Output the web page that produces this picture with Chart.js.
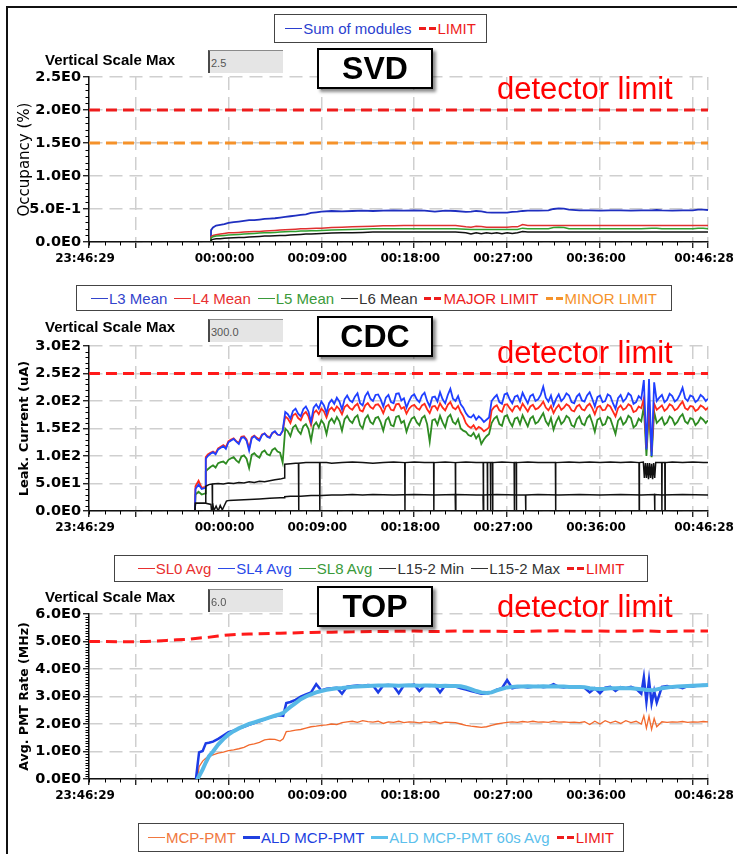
<!DOCTYPE html>
<html>
<head>
<meta charset="utf-8">
<script src="https://cdn.jsdelivr.net/npm/chart.js@4.4.1/dist/chart.umd.min.js"></script>
<style>
  html, body { margin:0; padding:0; background:#fff; }
  body { width:737px; height:854px; overflow:hidden; position:relative; font-family:"Liberation Sans", Arial, sans-serif; }
  .frame { position:absolute; left:6px; top:6px; width:800px; height:900px; border-left:2px solid #111; border-top:2px solid #111; }
  canvas.cv { position:absolute; left:0; z-index:1; }
  .legend { position:absolute; box-sizing:border-box; border:1px solid #444; background:#fff; display:flex; align-items:center; justify-content:center; gap:7px; font-size:15px; white-space:nowrap; z-index:2; }
  .legend span.it { display:inline-flex; align-items:center; }
  .legend i.ln { display:inline-block; width:17px; height:0; border-top:1.5px solid currentColor; margin-right:1px; }
  .legend i.thick { border-top-width:3px; }
  .legend i.ds { display:inline-block; width:17px; height:3px; margin-right:2px; background:linear-gradient(90deg,currentColor 0 7px,transparent 7px 10px,currentColor 10px 17px); }
  .vsm { position:absolute; left:45px; font-weight:bold; font-size:15px; line-height:17px; z-index:2; }
  .inp { position:absolute; left:208px; width:75px; height:23px; box-sizing:border-box; background:#e5e5e5; border-left:2px solid #4a4a4a; border-top:1px solid #8a8a8a; font-size:11px; color:#555; padding:6px 0 0 1px; z-index:2; }
  .det { position:absolute; left:497px; font-size:31px; line-height:31px; color:#ff0000; z-index:2; }
  .lab { position:absolute; left:317px; width:116px; height:41px; box-sizing:border-box; border:2px solid #000; background:#fff; box-shadow:3px 3px 3px rgba(0,0,0,0.45); font-weight:bold; font-size:32px; display:flex; align-items:center; justify-content:center; z-index:3; }
</style>
</head>
<body>
<div class="frame"></div>

<div class="legend" style="left:274px;top:14px;width:213px;height:29px;">
  <span class="it" style="color:#2b3fcf"><i class="ln"></i>Sum of modules</span>
  <span class="it" style="color:#ee1c1c"><i class="ds"></i>LIMIT</span>
</div>

<div class="vsm" style="top:51px">Vertical Scale Max</div>
<div class="inp" style="top:50px">2.5</div>
<div class="lab" style="top:48px">SVD</div>
<div class="det" style="top:73px">detector limit</div>
<canvas id="svd" class="cv" width="737" height="215" style="top:57px"></canvas>

<div class="legend" style="left:76px;top:285px;width:596px;height:26px;">
  <span class="it" style="color:#3344cc"><i class="ln"></i>L3 Mean</span>
  <span class="it" style="color:#e83030"><i class="ln"></i>L4 Mean</span>
  <span class="it" style="color:#3a9a3a"><i class="ln"></i>L5 Mean</span>
  <span class="it" style="color:#333"><i class="ln"></i>L6 Mean</span>
  <span class="it" style="color:#ee1c1c"><i class="ds"></i>MAJOR LIMIT</span>
  <span class="it" style="color:#f5922a"><i class="ds"></i>MINOR LIMIT</span>
</div>

<div class="vsm" style="top:318px">Vertical Scale Max</div>
<div class="inp" style="top:319px">300.0</div>
<div class="lab" style="top:316px">CDC</div>
<div class="det" style="top:337px">detector limit</div>
<canvas id="cdc" class="cv" width="737" height="215" style="top:326px"></canvas>

<div class="legend" style="left:114px;top:555px;width:534px;height:27px;">
  <span class="it" style="color:#e83030"><i class="ln"></i>SL0 Avg</span>
  <span class="it" style="color:#2b4ae8"><i class="ln"></i>SL4 Avg</span>
  <span class="it" style="color:#3a9a3a"><i class="ln"></i>SL8 Avg</span>
  <span class="it" style="color:#333"><i class="ln"></i>L15-2 Min</span>
  <span class="it" style="color:#333"><i class="ln"></i>L15-2 Max</span>
  <span class="it" style="color:#ee1c1c"><i class="ds"></i>LIMIT</span>
</div>

<div class="vsm" style="top:588px">Vertical Scale Max</div>
<div class="inp" style="top:589px">6.0</div>
<div class="lab" style="top:586px">TOP</div>
<div class="det" style="top:591px">detector limit</div>
<canvas id="top" class="cv" width="737" height="215" style="top:594px"></canvas>

<div class="legend" style="left:138px;top:823px;width:486px;height:29px;">
  <span class="it" style="color:#f07840"><i class="ln"></i>MCP-PMT</span>
  <span class="it" style="color:#2040e0"><i class="ln thick"></i>ALD MCP-PMT</span>
  <span class="it" style="color:#5cc0ec"><i class="ln thick"></i>ALD MCP-PMT 60s Avg</span>
  <span class="it" style="color:#ee1c1c"><i class="ds"></i>LIMIT</span>
</div>

<script>
// ---------- shared time axis (minutes relative to 00:00:00) ----------
const X_MIN = -13.5167, X_MAX = 46.4667;
const xTickValues = [-13.5167, -9, 0, 9, 18, 27, 36, 45, 46.4667];
const xTickLabels = ["23:46:29", "", "00:00:00", "00:09:00", "00:18:00", "00:27:00", "00:36:00", "", "00:46:28"];
const limitTime = [-13.52, 46.47];

// ---------- SVD ----------
const svdYTicks = [0, 0.5, 1.0, 1.5, 2.0, 2.5];
const svdYLabels = ["0.0E0", "5.0E-1", "1.0E0", "1.5E0", "2.0E0", "2.5E0"];
const svdTime = [-1.7, -1.69, -1.5, -1.2, -0.8, -0.4,
  0, 0.5, 1, 1.5, 2, 2.5, 3, 3.5, 4, 4.5, 5, 5.5, 6, 6.5, 7, 7.5, 8, 8.5, 9,
  10, 11, 12, 13, 14, 15, 16, 17, 18, 19, 20, 21, 22, 23,
  23.5, 24, 24.5, 25, 25.5, 26, 26.5, 27, 27.5, 28, 28.5, 29,
  30, 31,
  31.5, 32, 32.5, 33,
  34, 35, 36, 37, 38, 39, 40, 41,
  41.5,
  42, 43, 44, 45,
  45.5, 46, 46.47];
const svdL3 = [0, 0.18, 0.22, 0.25, 0.26, 0.27,
  0.29, 0.30, 0.31, 0.32, 0.33, 0.33, 0.34, 0.35, 0.355, 0.36, 0.37, 0.38, 0.39, 0.40, 0.41, 0.42, 0.44, 0.45, 0.46,
  0.47, 0.465, 0.47, 0.475, 0.47, 0.475, 0.48, 0.475, 0.48, 0.475, 0.46, 0.475, 0.47, 0.455,
  0.46, 0.47, 0.465, 0.45, 0.445, 0.445, 0.445, 0.445, 0.455, 0.46, 0.47, 0.475,
  0.475, 0.48,
  0.5, 0.51, 0.505, 0.49,
  0.48, 0.48, 0.475, 0.48, 0.48, 0.475, 0.48, 0.48,
  0.485,
  0.48, 0.475, 0.48, 0.48,
  0.49, 0.49, 0.485];
const svdL4 = [0, 0.08, 0.10, 0.11, 0.12, 0.13,
  0.14, 0.14, 0.145, 0.15, 0.155, 0.16, 0.16, 0.165, 0.17, 0.175, 0.18, 0.185, 0.19, 0.195, 0.2, 0.2, 0.205, 0.21, 0.21,
  0.22, 0.225, 0.23, 0.235, 0.24, 0.245, 0.245, 0.25, 0.25, 0.25, 0.25, 0.25, 0.25, 0.23,
  0.225, 0.24, 0.235, 0.225, 0.225, 0.225, 0.225, 0.225, 0.23, 0.23, 0.265, 0.25,
  0.25, 0.25,
  0.25, 0.25, 0.25, 0.25,
  0.25, 0.25, 0.25, 0.25, 0.25, 0.25, 0.25, 0.25,
  0.25,
  0.25, 0.25, 0.25, 0.25,
  0.25, 0.25, 0.25];
const svdL5 = [0, 0.06, 0.08, 0.09, 0.095, 0.10,
  0.105, 0.11, 0.115, 0.12, 0.125, 0.13, 0.135, 0.14, 0.14, 0.145, 0.15, 0.155, 0.16, 0.16, 0.165, 0.165, 0.17, 0.17, 0.175,
  0.18, 0.185, 0.19, 0.195, 0.2, 0.2, 0.2, 0.2, 0.2, 0.2, 0.2, 0.2, 0.2, 0.195,
  0.19, 0.19, 0.19, 0.19, 0.19, 0.19, 0.19, 0.19, 0.19, 0.19, 0.21, 0.2,
  0.2, 0.2,
  0.22, 0.225, 0.22, 0.2,
  0.2, 0.2, 0.2, 0.2, 0.2, 0.2, 0.2, 0.21,
  0.21,
  0.2, 0.2, 0.2, 0.2,
  0.21, 0.21, 0.2];
const svdL6 = [0, 0.03, 0.04, 0.05, 0.05, 0.055,
  0.06, 0.065, 0.07, 0.07, 0.075, 0.08, 0.085, 0.09, 0.09, 0.095, 0.1, 0.1, 0.105, 0.11, 0.115, 0.12, 0.12, 0.125, 0.13,
  0.135, 0.14, 0.14, 0.145, 0.15, 0.15, 0.15, 0.15, 0.15, 0.15, 0.15, 0.15, 0.15, 0.14,
  0.12, 0.14, 0.125, 0.14, 0.13, 0.14, 0.125, 0.14, 0.13, 0.14, 0.16, 0.15,
  0.15, 0.15,
  0.15, 0.15, 0.15, 0.15,
  0.15, 0.15, 0.15, 0.15, 0.15, 0.15, 0.15, 0.15,
  0.15,
  0.15, 0.15, 0.15, 0.15,
  0.15, 0.15, 0.15];
const svdMajorLimit = [2.0, 2.0];
const svdMinorLimit = [1.5, 1.5];

// ---------- CDC ----------
const cdcYTicks = [0, 50, 100, 150, 200, 250, 300];
const cdcYLabels = ["0.0E0", "5.0E1", "1.0E2", "1.5E2", "2.0E2", "2.5E2", "3.0E2"];
const cdcTime = [-3.25, -3.2, -2.9, -2.6, -2.25, -2.2,
  -2, -1.75, -1.5, -1.25, -1, -0.75, -0.5, -0.25, 0, 0.25, 0.5, 0.75, 1, 1.25, 1.5, 1.75, 2, 2.25, 2.5, 2.75,
  3, 3.25, 3.5, 3.75, 4, 4.25, 4.5, 4.75, 5, 5.25, 5.5, 5.75, 6, 6.25, 6.5, 6.75, 7, 7.25, 7.5, 7.75,
  8, 8.25, 8.5, 8.75, 9, 9.25, 9.5, 9.75, 10, 10.25, 10.5, 10.75, 11, 11.25, 11.5, 11.75, 12, 12.25, 12.5, 12.75,
  13, 13.25, 13.5, 13.75, 14, 14.25, 14.5, 14.75, 15, 15.25, 15.5, 15.75, 16, 16.25, 16.5, 16.75, 17, 17.25, 17.5, 17.75,
  18, 18.25, 18.5, 18.75, 19, 19.25, 19.5, 19.75, 20, 20.25, 20.5, 20.75, 21, 21.25, 21.5, 21.75, 22, 22.25, 22.5, 22.75,
  23, 23.25, 23.5, 23.75, 24, 24.25, 24.5, 24.75, 25, 25.25, 25.5, 25.75, 26, 26.25, 26.5, 26.75, 27, 27.25, 27.5, 27.75,
  28, 28.25, 28.5, 28.75, 29, 29.25, 29.5, 29.75, 30, 30.25, 30.5, 30.75, 31, 31.25, 31.5, 31.75, 32, 32.25, 32.5, 32.75,
  33, 33.25, 33.5, 33.75, 34, 34.25, 34.5, 34.75, 35, 35.25, 35.5, 35.75, 36, 36.25, 36.5, 36.75, 37, 37.25, 37.5, 37.75,
  38, 38.25, 38.5, 38.75, 39, 39.25, 39.5, 39.75, 40, 40.25, 40.5, 40.75, 41, 41.25, 41.5, 41.75, 42, 42.25, 42.5, 42.75,
  43, 43.25, 43.5, 43.75, 44, 44.25, 44.5, 44.75, 45, 45.25, 45.5, 45.75, 46, 46.25, 46.47];
const cdcSL4 = [0, 40, 48, 40, 42, 95,
  100, 104, 107, 103, 112, 115, 118, 113, 125, 128, 131, 126, 122, 133, 134, 128, 110, 132, 136, 131,
  128, 138, 141, 135, 133, 142, 145, 139, 138, 146, 180, 176, 168, 182, 186, 177, 172, 185, 190, 181,
  162, 188, 194, 186, 199, 192, 178, 196, 202, 195, 206, 199, 185, 203, 210, 201, 198, 208, 214, 196,
  192, 209, 216, 204, 200, 211, 212, 203, 190, 206, 211, 198, 196, 213, 214, 201, 205, 188, 200, 209,
  212, 203, 198, 210, 215, 200, 190, 207, 208, 199, 216, 203, 196, 211, 222, 204, 200, 209, 194, 188,
  178, 172, 170, 175, 166, 172, 168, 162, 166, 170, 200, 206, 211, 198, 195, 212, 214, 203, 196, 208,
  210, 199, 215, 205, 196, 209, 212, 200, 203, 211, 226, 206, 199, 210, 192, 204, 212, 200, 205, 214,
  210, 198, 196, 208, 213, 201, 199, 210, 216, 204, 190, 207, 210, 198, 200, 212, 209, 196, 186, 205,
  211, 199, 204, 214, 210, 195, 198, 209, 204, 238, 112, 240, 100, 234, 200, 206, 211, 198, 202, 213,
  209, 199, 203, 212, 224, 205, 200, 210, 208, 198, 202, 211, 207, 200, 204];
const cdcSL0 = [0, 45, 55, 42, 44, 98,
  103, 106, 108, 105, 114, 117, 120, 116, 127, 130, 132, 127, 124, 135, 136, 130, 114, 134, 137, 133,
  130, 139, 141, 136, 134, 142, 144, 139, 138, 145, 172, 168, 160, 174, 177, 169, 165, 176, 180, 172,
  156, 178, 183, 176, 186, 181, 170, 184, 188, 182, 190, 185, 176, 189, 193, 187, 184, 191, 195, 183,
  181, 192, 196, 189, 186, 193, 194, 188, 178, 190, 193, 184, 183, 194, 195, 186, 189, 177, 186, 191,
  193, 187, 184, 192, 195, 185, 178, 190, 191, 184, 196, 188, 183, 193, 198, 188, 185, 191, 180, 172,
  160, 154, 151, 156, 148, 153, 150, 145, 148, 152, 183, 189, 192, 183, 180, 193, 194, 187, 181, 190,
  191, 184, 195, 188, 181, 190, 193, 185, 187, 192, 199, 188, 183, 191, 178, 187, 193, 184, 188, 194,
  191, 183, 181, 190, 193, 185, 183, 191, 195, 187, 176, 189, 191, 183, 184, 193, 190, 181, 172, 187,
  192, 184, 187, 194, 191, 180, 182, 190, 187, 205, 115, 200, 108, 195, 184, 188, 192, 182, 186, 194,
  191, 183, 186, 193, 199, 187, 184, 191, 190, 182, 185, 192, 189, 184, 188];
const cdcSL8 = [0, 30, 35, 30, 32, 72,
  76, 80, 83, 79, 87, 89, 90, 86, 93, 96, 98, 92, 88, 99, 101, 95, 78, 102, 105, 100,
  97, 107, 110, 103, 101, 111, 114, 108, 106, 88, 150, 145, 136, 152, 156, 146, 140, 154, 158, 149,
  128, 155, 161, 152, 165, 158, 140, 162, 168, 160, 171, 163, 146, 167, 173, 164, 160, 170, 174, 156,
  150, 168, 174, 162, 158, 169, 171, 161, 146, 165, 170, 156, 154, 171, 173, 160, 164, 144, 158, 168,
  171, 161, 156, 169, 173, 158, 126, 165, 167, 157, 173, 161, 152, 170, 175, 162, 158, 167, 150, 146,
  144, 138, 136, 142, 132, 139, 122, 130, 136, 140, 160, 168, 172, 158, 155, 172, 174, 162, 154, 168,
  170, 158, 174, 164, 154, 168, 172, 159, 162, 170, 178, 163, 156, 169, 148, 162, 171, 158, 163, 173,
  169, 156, 153, 167, 172, 159, 156, 169, 174, 161, 144, 166, 169, 156, 158, 171, 168, 154, 140, 164,
  170, 157, 162, 173, 169, 152, 156, 168, 163, 190, 100, 185, 98, 180, 160, 165, 170, 157, 161, 172,
  168, 157, 162, 171, 176, 163, 159, 169, 167, 156, 161, 170, 166, 160, 165];
const cdcMaxTime = [-13.52, -3.25, -3.2, -2.25, -2.2, -1.9, -1.58, -1.56, -1.54, -1,
  -0.5, 0, 0.5, 1, 1.5, 2, 2.5, 3, 3.5, 4,
  4.5, 5, 5.4, 5.45, 6, 6.5, 6.78, 6.8, 6.82, 7.5,
  8, 8.83, 8.85, 8.87, 9.5, 10, 11, 12, 13, 14,
  15, 16, 17.08, 17.1, 17.12, 18, 19, 19.88, 19.9, 19.92,
  21, 21.98, 22.0, 22.02, 23, 24, 24.68, 24.7, 24.72, 25.08,
  25.1, 25.12, 25.38, 25.4, 25.42, 25.58, 25.6, 25.62, 26.5, 27.68,
  27.7, 27.72, 27.88, 27.9, 27.92, 29, 30, 31.68, 31.7, 31.72,
  33, 34, 35, 36, 37, 38, 39, 39.78, 39.8, 39.82,
  40.2, 40.3, 40.4, 40.5, 40.6, 40.7, 40.8, 40.9, 41.0, 41.1,
  41.2, 41.3, 41.4, 41.98, 42.0, 42.02, 42.28, 42.3, 42.32, 43,
  44, 45, 46, 46.47];
const cdcMax = [0, 0, 14, 14, 45, 48, 49, 0, 49, 50,
  49, 51, 50, 52, 51, 53, 52, 54, 53, 55,
  57, 58, 60, 85, 86, 87, 87, 0, 87, 88,
  88, 88, 0, 88, 88, 87, 88, 89, 88, 87,
  88, 89, 88, 0, 88, 89, 88, 88, 0, 88,
  89, 88, 0, 88, 89, 88, 88, 0, 88, 88,
  0, 88, 88, 0, 88, 88, 0, 88, 89, 88,
  0, 88, 88, 0, 88, 89, 88, 88, 0, 88,
  89, 88, 89, 88, 89, 88, 89, 88, 0, 88,
  89, 60, 87, 60, 87, 58, 87, 60, 86, 58,
  87, 60, 88, 88, 0, 88, 88, 0, 88, 89,
  88, 89, 88, 88];
const cdcMinTime = [-13.52, -3.25, -3.2, -2.2, -1.7, -1.65, -1.5, -1.4, -1.2, -1.0,
  -0.8, -0.6, -0.4, -0.2, 0, 1, 2, 3, 4, 5,
  5.4, 5.45, 6, 7, 8, 9, 10, 11, 12, 13,
  14, 16, 18, 20, 21.98, 22.0, 22.02, 24, 24.68, 24.7,
  24.72, 26, 28, 28.78, 28.8, 28.82, 30, 32, 34, 36,
  38, 40, 41.28, 41.3, 41.32, 42, 44, 46.47];
const cdcMin = [0, 0, 14, 14, 12, 2, 10, 1, 9, 0,
  10, 2, 10, 18, 19, 20, 21, 22, 23, 24,
  24, 26, 27, 27, 28, 28, 29, 29, 30, 29,
  30, 29, 30, 29, 30, 0, 30, 29, 29, 0,
  29, 30, 29, 29, 0, 29, 30, 29, 30, 29,
  30, 29, 30, 0, 30, 29, 30, 29];
const cdcLimit = [250, 250];

// ---------- TOP ----------
const topYTicks = [0, 1, 2, 3, 4, 5, 6];
const topYLabels = ["0.0E0", "1.0E0", "2.0E0", "3.0E0", "4.0E0", "5.0E0", "6.0E0"];
const topTime = [-3.15, -3.0, -2.85, -2.5, -2.2, -1.9, -1.5, -1.0, -0.5,
  0, 0.5, 1, 1.5, 2, 2.5, 3, 3.5, 4, 4.5, 5,
  5.3, 5.6,
  6, 6.5, 7, 7.5, 8, 8.5, 9, 9.5, 10, 10.5,
  11, 11.5, 12, 12.5, 13, 13.5, 14, 14.5, 15, 15.5,
  16, 16.5, 17, 17.5, 18, 18.5, 19, 19.5, 20, 20.5,
  21, 21.5, 22, 22.5, 23, 23.5, 24, 24.5, 25, 25.5,
  26, 26.5, 27, 27.5, 28, 28.5, 29, 29.5, 30, 30.5,
  31, 31.5, 32, 32.5, 33, 33.5, 34, 34.5, 35, 35.5,
  36, 36.5, 37, 37.5, 38, 38.5, 39, 39.5, 40,
  40.25, 40.5, 40.75, 41, 41.25, 41.5,
  42, 42.5, 43, 43.5, 44, 44.5, 45, 45.5, 46, 46.47];
const topALD = [0, 0.5, 0.97, 1.02, 1.3, 1.32, 1.36, 1.46, 1.58,
  1.7, 1.76, 1.84, 1.9, 1.97, 2.03, 2.1, 2.17, 2.24, 2.28, 2.32,
  2.3, 2.76,
  2.8, 2.88, 3.0, 3.08, 3.15, 3.45, 3.22, 3.28, 3.3, 3.32,
  3.1, 3.36, 3.38, 3.4, 3.38, 3.42, 3.4, 3.15, 3.4, 3.42,
  3.38, 3.12, 3.41, 3.4, 3.43, 3.2, 3.4, 3.38, 3.41, 3.15,
  3.4, 3.38, 3.36, 3.3, 3.25, 3.2, 3.15, 3.1, 3.1, 3.15,
  3.25, 3.3, 3.6, 3.3, 3.34, 3.36, 3.33, 3.35, 3.38, 3.34,
  3.36, 3.45, 3.35, 3.33, 3.36, 3.34, 3.35, 3.32, 3.15, 3.3,
  3.12, 3.32, 3.35, 3.2, 3.34, 3.3, 3.35, 3.28, 3.1,
  3.7, 2.8, 3.6, 2.75, 3.2, 2.78,
  3.35, 3.38, 3.33, 3.36, 3.3, 3.38, 3.36, 3.4, 3.42, 3.4];
const topALD60 = [0, 0, 0.1, 0.35, 0.6, 0.82, 1.0, 1.25, 1.45,
  1.62, 1.74, 1.84, 1.92, 2.0, 2.06, 2.12, 2.18, 2.24, 2.3, 2.36,
  2.4, 2.5,
  2.62, 2.76, 2.9, 3.0, 3.08, 3.15, 3.2, 3.24, 3.27, 3.3,
  3.31, 3.33, 3.35, 3.36, 3.37, 3.38, 3.39, 3.4, 3.4, 3.41,
  3.4, 3.39, 3.4, 3.41, 3.4, 3.39, 3.4, 3.4, 3.39, 3.38,
  3.39, 3.38, 3.38, 3.37, 3.33, 3.27, 3.2, 3.15, 3.13, 3.15,
  3.22, 3.28, 3.33, 3.35, 3.36, 3.36, 3.37, 3.36, 3.36, 3.37,
  3.36, 3.37, 3.36, 3.36, 3.35, 3.35, 3.35, 3.34, 3.3, 3.28,
  3.27, 3.28, 3.3, 3.3, 3.31, 3.3, 3.3, 3.28, 3.26,
  3.25, 3.24, 3.24, 3.23, 3.24, 3.26,
  3.3, 3.33, 3.35, 3.36, 3.37, 3.38, 3.39, 3.4, 3.41, 3.42];
const topMCP = [0, 0, 0.45, 0.65, 0.75, 0.82, 0.88, 0.94, 0.98,
  1.03, 1.06, 1.1, 1.15, 1.24, 1.28, 1.33, 1.42, 1.45, 1.44, 1.38,
  1.46, 1.72,
  1.74, 1.78, 1.8, 1.85, 1.9, 1.92, 1.95, 1.97, 2.0, 1.98,
  2.05, 2.08, 2.1, 2.06, 2.12, 2.09, 2.07, 2.1, 2.02, 2.08,
  2.06, 2.1, 2.05, 2.08, 2.07, 2.04, 2.08, 2.06, 2.09, 2.02,
  2.07, 2.06, 2.05, 2.0, 1.95, 1.92, 1.9, 1.88, 1.9, 1.95,
  2.0, 2.03, 2.06, 2.08, 2.06, 2.09, 2.07, 2.1, 2.07, 2.08,
  2.06, 2.1, 2.07, 2.08, 2.06, 2.07, 2.05, 2.08, 1.98, 2.1,
  2.0, 2.12, 2.04, 2.1, 2.02, 2.12, 2.05, 2.1, 2.0,
  2.3, 1.85, 2.28, 1.8, 2.2, 1.9,
  2.08, 2.06, 2.08, 2.07, 2.09, 2.06, 2.08, 2.07, 2.09, 2.08];
const topLimitTime = [-13.52, -12, -10, -8, -7, -6, -5, -4, -3, -2, -1, 0, 1, 2, 3, 4, 5, 6,
  8, 10, 12, 14, 16, 18, 20, 22, 24, 26, 28, 30, 32, 34, 36, 38, 40, 42, 44, 46.47];
const topLimit = [5.0, 5.0, 4.99, 5.0, 5.02, 5.04, 5.06, 5.08, 5.12, 5.15,
  5.2, 5.24, 5.26, 5.27, 5.28, 5.29, 5.3, 5.31, 5.33, 5.34,
  5.35, 5.36, 5.37, 5.38, 5.36, 5.38, 5.37, 5.37, 5.36, 5.38,
  5.39, 5.37, 5.38, 5.37, 5.39, 5.36, 5.38, 5.38];

// ---------- helpers ----------
function pts(t, v) { return t.map((x, i) => ({ x: x, y: v[i] })); }

function line(label, t, v, color, width, order, dash) {
  return { label, data: pts(t, v), borderColor: color, backgroundColor: color,
    borderWidth: width, pointRadius: 0, fill: false, tension: 0, order,
    borderDash: dash || [], borderCapStyle: 'butt', borderJoinStyle: 'miter' };
}

const minorTicksPlugin = {
  id: 'minorTicks',
  afterDraw(chart, args, opts) {
    const ctx = chart.ctx, xs = chart.scales.x, ys = chart.scales.y;
    const ca = chart.chartArea;
    ctx.save();
    ctx.strokeStyle = '#000';
    ctx.lineWidth = 1;
    ctx.beginPath();
    for (let k = Math.ceil(X_MIN / 1.5); k <= Math.floor(X_MAX / 1.5); k++) {
      if (k % 6 === 0) continue;
      const px = Math.round(xs.getPixelForValue(k * 1.5)) + 0.5;
      ctx.moveTo(px, ca.bottom);
      ctx.lineTo(px, ca.bottom + 3.5);
    }
    const step = opts.yStep, n = Math.round((ys.max - ys.min) / step);
    for (let k = 1; k < n; k++) {
      if (k % opts.yPer === 0) continue;
      const py = Math.round(ys.getPixelForValue(ys.min + k * step)) + 0.5;
      ctx.moveTo(ca.left - 3.5, py);
      ctx.lineTo(ca.left, py);
    }
    ctx.stroke();
    ctx.restore();
  }
};

const gridOpts = { color: '#cfcfcf', lineWidth: 1.5, tickLength: 6, tickColor: '#000', tickWidth: 1.2 };
const borderOpts = { color: '#111', width: 1.5, dash: [13, 7] };

function makeChart(id, yTicks, yLabels, yStep, yPer, yTitle, titleFont, datasets) {
  return new Chart(document.getElementById(id), {
    type: 'line',
    data: { datasets },
    options: {
      responsive: false, animation: false, devicePixelRatio: 1,
      layout: { padding: { top: 20, right: 29, left: 0, bottom: 0 } },
      plugins: { legend: { display: false }, tooltip: { enabled: false },
        minorTicks: { yStep: yStep, yPer: yPer } },
      scales: {
        x: {
          type: 'linear', min: X_MIN, max: X_MAX,
          afterBuildTicks: s => { s.ticks = xTickValues.map(v => ({ value: v })); },
          afterFit: s => { s.height = 30; s.paddingLeft = 0; s.paddingRight = 0; },
          ticks: { autoSkip: false, maxRotation: 0, minRotation: 0, padding: 4, labelOffset: -4,
            color: '#000', font: { family: 'DejaVu Sans', size: 12, weight: 'bold' },
            callback: (v, i) => xTickLabels[i] },
          grid: gridOpts, border: borderOpts
        },
        y: {
          type: 'linear', min: yTicks[0], max: yTicks[yTicks.length - 1],
          afterBuildTicks: s => { s.ticks = yTicks.map(v => ({ value: v })); },
          afterFit: s => { s.width = 89; },
          ticks: { padding: 2, color: '#000', font: { family: 'DejaVu Sans', size: 14.5, weight: 'bold' },
            callback: (v, i) => yLabels[i] },
          grid: gridOpts, border: borderOpts,
          title: { display: true, text: yTitle, color: '#000', font: titleFont,
            padding: { top: 25 - titleFont.size * 0.6, bottom: 0 } }
        }
      }
    },
    plugins: [minorTicksPlugin]
  });
}

makeChart('svd', svdYTicks, svdYLabels, 0.1, 5, 'Occupancy (%)',
  { family: 'DejaVu Sans', size: 15, weight: 'normal' }, [
  line('MAJOR LIMIT', limitTime, svdMajorLimit, '#ee1c1c', 3, 0, [11, 6]),
  line('MINOR LIMIT', limitTime, svdMinorLimit, '#f5922a', 3, 0, [11, 6]),
  line('L6 Mean', svdTime, svdL6, '#111111', 1.5, 1),
  line('L5 Mean', svdTime, svdL5, '#2fa02f', 1.5, 2),
  line('L4 Mean', svdTime, svdL4, '#e03030', 1.5, 3),
  line('L3 Mean', svdTime, svdL3, '#1f2fc0', 1.8, 4)
]);

makeChart('cdc', cdcYTicks, cdcYLabels, 10, 5, 'Leak. Current (uA)',
  { family: 'DejaVu Sans', size: 13, weight: 'bold' }, [
  line('LIMIT', limitTime, cdcLimit, '#ff1a1a', 3, 0, [11, 6]),
  line('L15-2 Max', cdcMaxTime, cdcMax, '#111111', 1.5, 1),
  line('L15-2 Min', cdcMinTime, cdcMin, '#111111', 1.5, 2),
  line('SL4 Avg', cdcTime, cdcSL4, '#1f3fff', 1.8, 3),
  line('SL0 Avg', cdcTime, cdcSL0, '#ff2a1a', 1.8, 4),
  line('SL8 Avg', cdcTime, cdcSL8, '#2e8b22', 1.8, 5)
]);

makeChart('top', topYTicks, topYLabels, 0.1, 10, 'Avg. PMT Rate (MHz)',
  { family: 'DejaVu Sans', size: 12.5, weight: 'bold' }, [
  line('LIMIT', topLimitTime, topLimit, '#ff1a1a', 3, 0, [11, 6]),
  line('ALD MCP-PMT 60s Avg', topTime, topALD60, '#56b8e6', 4, 1),
  line('ALD MCP-PMT', topTime, topALD, '#1c3ce6', 2.5, 2),
  line('MCP-PMT', topTime, topMCP, '#f26a2e', 1.3, 3)
]);
</script>
</body>
</html>
